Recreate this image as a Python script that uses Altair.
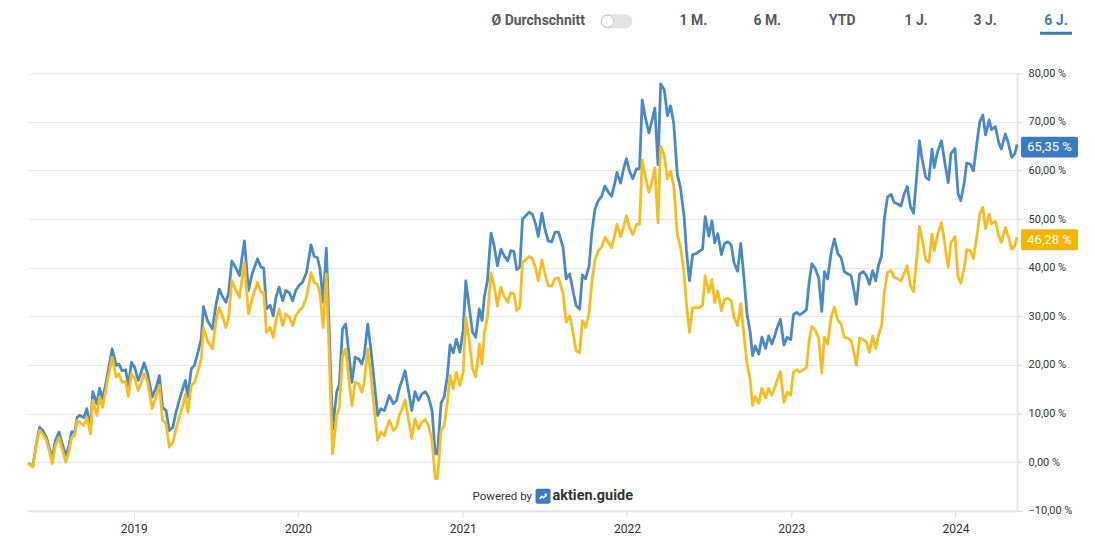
import altair as alt
import pandas as pd

# ---------------- data ----------------
t = [
 2018.358, 2018.388, 2018.409, 2018.429, 2018.449, 2018.470, 2018.490, 2018.506, 2018.526, 2018.546,
 2018.567, 2018.587, 2018.607, 2018.622, 2018.642, 2018.656, 2018.672, 2018.696, 2018.716, 2018.737,
 2018.753, 2018.777, 2018.793, 2018.813, 2018.838, 2018.871, 2018.895, 2018.911, 2018.931, 2018.951,
 2018.968, 2018.988, 2019.008, 2019.029, 2019.047, 2019.065, 2019.085, 2019.114, 2019.138, 2019.158,
 2019.178, 2019.199, 2019.219, 2019.239, 2019.259, 2019.279, 2019.300, 2019.316, 2019.330, 2019.351,
 2019.371, 2019.391, 2019.411, 2019.425, 2019.451,
 2019.482, 2019.502, 2019.522, 2019.543, 2019.563, 2019.579, 2019.600, 2019.620, 2019.644, 2019.674,
 2019.700, 2019.721, 2019.738, 2019.755, 2019.776, 2019.792, 2019.810, 2019.831, 2019.851, 2019.867,
 2019.887, 2019.907, 2019.928, 2019.948, 2019.968, 2019.988, 2020.009, 2020.029, 2020.053, 2020.080,
 2020.100, 2020.120, 2020.136, 2020.154, 2020.174, 2020.211, 2020.235, 2020.252, 2020.272, 2020.292,
 2020.308, 2020.329, 2020.349, 2020.369, 2020.389, 2020.403, 2020.426, 2020.444, 2020.460, 2020.484,
 2020.505, 2020.525, 2020.540, 2020.555, 2020.580, 2020.600, 2020.616, 2020.634, 2020.652,
 2020.693, 2020.713, 2020.733, 2020.754, 2020.774, 2020.794, 2020.815, 2020.835, 2020.849, 2020.869,
 2020.889, 2020.909, 2020.924, 2020.944, 2020.964, 2020.985, 2021.005, 2021.021, 2021.041, 2021.061,
 2021.082, 2021.102, 2021.118, 2021.132, 2021.152, 2021.173, 2021.193, 2021.213, 2021.234, 2021.254,
 2021.274, 2021.295, 2021.315, 2021.331, 2021.349, 2021.365, 2021.386, 2021.406, 2021.426, 2021.444,
 2021.462, 2021.483, 2021.503, 2021.523, 2021.544, 2021.564, 2021.584, 2021.612, 2021.632, 2021.653,
 2021.673, 2021.693, 2021.714, 2021.730, 2021.750,
 2021.770, 2021.787, 2021.807, 2021.827, 2021.848, 2021.868, 2021.888, 2021.908, 2021.928, 2021.942,
 2021.963, 2021.983, 2021.999, 2022.018, 2022.038, 2022.058, 2022.078, 2022.094, 2022.115, 2022.135,
 2022.155, 2022.171, 2022.191, 2022.208, 2022.228, 2022.248, 2022.267, 2022.287, 2022.307, 2022.327,
 2022.348, 2022.364, 2022.382, 2022.402, 2022.422, 2022.443, 2022.463, 2022.479, 2022.499, 2022.519,
 2022.536, 2022.556, 2022.577, 2022.597, 2022.617, 2022.637, 2022.653, 2022.674, 2022.694, 2022.714,
 2022.732, 2022.753, 2022.767, 2022.783, 2022.803, 2022.823, 2022.844, 2022.864, 2022.884, 2022.899,
 2022.914, 2022.935,
 2022.957, 2022.977, 2022.998, 2023.014, 2023.034, 2023.054, 2023.075, 2023.095, 2023.111, 2023.127,
 2023.148, 2023.168, 2023.188, 2023.204, 2023.224, 2023.245, 2023.265, 2023.285, 2023.306, 2023.326,
 2023.346, 2023.366, 2023.382, 2023.399, 2023.419, 2023.439, 2023.459, 2023.479, 2023.496, 2023.516,
 2023.532, 2023.552, 2023.569, 2023.589, 2023.609, 2023.629, 2023.650, 2023.670, 2023.690, 2023.707,
 2023.727, 2023.747, 2023.767, 2023.783, 2023.800, 2023.820, 2023.840, 2023.860, 2023.872, 2023.893,
 2023.917, 2023.937, 2023.957, 2023.974, 2023.998, 2024.018, 2024.035, 2024.055, 2024.071, 2024.091,
 2024.111, 2024.132, 2024.148, 2024.168, 2024.184, 2024.205, 2024.221, 2024.245, 2024.265, 2024.281,
 2024.306, 2024.322, 2024.342, 2024.363, 2024.375,
]

blue = [
 -0.2, -0.8, 4.1, 7.2, 6.5, 5.1, 2.7, 0.7, 4.5, 6.2,
 3.8, 1.4, 3.4, 6.2, 6.2, 9.2, 9.6, 9.2, 11.0, 6.8,
 14.5, 12.0, 15.2, 13.0, 17.1, 23.3, 19.9, 20.2, 18.8, 19.0,
 15.8, 20.5, 19.5, 16.8, 18.6, 20.4, 18.2, 13.4, 15.4, 17.8,
 11.3, 10.6, 6.5, 7.2, 10.3, 12.7, 15.1, 16.8, 13.4, 19.2,
 19.9, 22.3, 25.3, 32.0, 29.1,
 27.4, 32.5, 35.6, 33.9, 32.9, 34.9, 41.4, 40.1, 38.4, 45.5,
 35.3, 38.7, 40.3, 41.8, 40.1, 39.9, 31.5, 32.3, 30.1, 33.9,
 36.0, 33.2, 35.3, 34.8, 33.2, 35.3, 36.4, 37.0, 39.0, 44.7,
 42.3, 42.1, 39.7, 32.9, 44.0, 6.8, 14.4, 16.1, 27.4, 28.4,
 23.3, 16.4, 21.6, 21.2, 20.2, 21.9, 28.4, 23.3, 17.9, 9.6,
 11.0, 10.6, 12.0, 13.7, 12.0, 12.7, 15.1, 17.0, 18.8,
 10.6, 14.5, 12.7, 14.0, 14.5, 13.4, 10.6, 1.7, 1.7, 12.2,
 13.4, 17.8, 24.1, 22.5, 25.3, 22.6, 27.1, 37.3, 32.2, 26.7,
 25.7, 31.5, 29.1, 33.9, 37.3, 47.1, 44.5, 40.4, 43.8, 42.5,
 41.4, 43.5, 43.3, 39.6, 40.1, 50.0, 50.7, 51.4, 51.0, 49.0,
 46.4, 51.2, 47.9, 45.5, 45.3, 47.3, 47.3, 44.2, 37.7, 38.7,
 35.3, 32.2, 31.5, 38.5, 37.7,
 40.4, 47.2, 52.0, 53.7, 54.7, 56.8, 55.5, 54.7, 57.4, 59.6,
 57.4, 60.5, 62.4, 59.8, 58.3, 60.3, 60.3, 74.5, 70.8, 67.7,
 70.4, 72.8, 61.2, 77.8, 76.6, 71.3, 73.3, 69.7, 59.2, 56.4,
 50.6, 43.8, 37.3, 42.7, 42.9, 43.4, 43.8, 50.5, 46.5, 49.6,
 45.1, 47.0, 42.7, 45.0, 45.3, 44.6, 41.0, 39.3, 45.0, 38.0,
 30.4, 26.7, 21.9, 23.9, 22.2, 25.7, 23.4, 26.0, 24.3, 25.8,
 27.4, 29.4,
 24.1, 25.7, 25.2, 30.3, 30.8, 30.3, 30.8, 31.4, 37.0, 40.8,
 39.7, 38.0, 31.0, 39.2, 37.7, 43.2, 45.9, 42.8, 42.1, 39.2,
 38.7, 38.4, 35.6, 32.5, 38.7, 39.2, 38.4, 36.6, 39.4, 37.3,
 40.4, 42.5, 50.0, 54.5, 55.1, 53.4, 53.1, 52.7, 55.1, 56.7,
 52.6, 51.2, 58.9, 66.1, 62.3, 58.6, 58.1, 64.4, 60.6, 63.7,
 66.1, 61.3, 57.5, 63.4, 64.5, 55.1, 53.8, 57.7, 61.5, 61.3,
 59.9, 65.8, 70.0, 71.4, 67.3, 70.4, 68.4, 69.0, 65.8, 64.4,
 67.5, 65.8, 62.7, 63.4, 65.35,
]

yellow = [
 -0.2, -1.0, 3.8, 6.5, 5.8, 4.5, 2.1, -0.3, 3.4, 5.1,
 2.7, 0.0, 2.1, 5.1, 5.5, 8.6, 8.2, 7.5, 9.2, 5.8,
 12.7, 9.6, 13.4, 11.3, 15.8, 21.6, 17.5, 18.2, 16.4, 16.6,
 13.6, 18.2, 17.3, 14.7, 16.4, 18.2, 16.4, 11.0, 13.7, 15.8,
 8.6, 7.9, 3.1, 4.1, 6.8, 9.2, 11.6, 14.0, 10.3, 15.8,
 16.4, 18.5, 21.2, 27.7, 25.0,
 23.3, 29.1, 31.8, 29.8, 27.7, 29.8, 37.3, 35.6, 33.9, 41.1,
 30.5, 33.6, 35.3, 37.0, 34.9, 34.9, 26.7, 27.7, 25.7, 29.1,
 31.5, 28.1, 30.5, 29.8, 28.1, 30.1, 31.2, 31.8, 33.9, 39.0,
 37.0, 36.6, 34.6, 27.7, 38.7, 1.7, 9.6, 11.3, 21.9, 23.3,
 17.8, 11.6, 16.4, 16.1, 14.4, 16.4, 23.3, 17.8, 12.3, 4.5,
 6.2, 5.5, 7.0, 8.6, 6.5, 7.2, 9.6, 11.0, 12.8,
 4.9, 8.9, 6.8, 8.2, 8.8, 7.5, 4.5, -3.4, -3.4, 6.5,
 7.5, 12.3, 17.8, 15.1, 18.5, 15.8, 18.5, 29.8, 25.3, 19.2,
 17.5, 24.3, 20.2, 26.4, 29.8, 38.9, 36.3, 32.1, 36.0, 34.2,
 32.9, 34.9, 34.6, 31.2, 31.8, 41.1, 41.6, 42.3, 41.9, 40.0,
 37.3, 41.6, 38.7, 36.3, 36.2, 37.8, 37.9, 34.7, 28.8, 30.1,
 26.7, 22.9, 22.5, 29.1, 27.7,
 30.6, 36.9, 41.6, 43.4, 44.3, 46.2, 45.1, 44.1, 46.8, 48.9,
 46.4, 48.5, 50.7, 48.2, 46.8, 48.9, 48.9, 62.1, 58.8, 55.5,
 57.8, 60.5, 49.2, 65.0, 63.2, 58.3, 59.8, 56.8, 46.8, 44.4,
 38.9, 32.8, 26.7, 31.8, 31.8, 31.8, 32.2, 38.3, 34.9, 37.6,
 32.8, 35.2, 31.1, 33.5, 33.7, 33.2, 29.8, 28.1, 32.6, 26.1,
 20.3, 16.9, 11.7, 13.5, 12.1, 15.2, 13.2, 15.2, 13.8, 15.2,
 16.6, 18.6,
 12.3, 14.4, 13.8, 18.5, 19.0, 18.5, 19.0, 19.5, 25.0, 27.9,
 27.1, 25.5, 18.4, 25.7, 24.3, 29.8, 31.9, 29.2, 28.4, 25.7,
 25.5, 25.0, 22.9, 19.9, 25.5, 25.2, 24.7, 22.6, 25.9, 23.4,
 26.0, 28.1, 34.9, 39.0, 39.4, 38.0, 37.7, 37.3, 38.7, 40.4,
 36.3, 35.1, 41.8, 48.5, 45.9, 41.6, 41.1, 46.9, 43.5, 46.6,
 49.3, 44.5, 40.1, 45.1, 46.4, 38.0, 36.8, 40.1, 43.7, 43.5,
 41.9, 46.6, 51.0, 52.4, 48.0, 51.0, 49.0, 49.5, 46.6, 45.2,
 48.3, 46.6, 43.8, 44.5, 46.28,
]

y_ticks = [-10, 0, 10, 20, 30, 40, 50, 60, 70, 80]
x_years = [2019, 2020, 2021, 2022, 2023, 2024]
menu_items = ["1 M.", "6 M.", "YTD", "1 J.", "3 J.", "6 J."]

# ---------------- helpers ----------------
def to_date(v):
    y = int(v)
    start = pd.Timestamp(y, 1, 1)
    end = pd.Timestamp(y + 1, 1, 1)
    return (start + (end - start) * (v - y)).normalize()

df = pd.DataFrame({"date": [to_date(v) for v in t], "blue": blue, "yellow": yellow})
last = pd.DataFrame({"v": [blue[-1], yellow[-1]], "c": ["blue", "yellow"]})
ui = pd.DataFrame({"k": [0]})

FONT = "Roboto"
BLUE_LINE = "#4a89c3"
YELLOW_LINE = "#f6bd22"
BLUE_BOX = "#3a7bbf"
YELLOW_BOX = "#f2b600"
W, H = 990, 438

yscale = alt.Scale(domain=[-10, 80], nice=False, zero=False)
xscale = alt.Scale(nice=False)

label_expr = "replace(format(datum.value, '.2f'), '.', ',') + ' %'"
y_axis = alt.Axis(
    orient="right", title=None, values=y_ticks, labelExpr=label_expr,
    grid=True, gridColor="#e6e6e6", gridWidth=1,
    domainColor="#e8e8e8", domainWidth=2,
    tickColor="#d6d6d6", tickSize=5, labelPadding=6,
    labelColor="#333333", labelFontSize=11, labelFont=FONT,
)
x_axis = alt.Axis(
    title=None, format="%Y", grid=False,
    values=[alt.DateTime(year=y, month=1, date=1) for y in x_years],
    domainColor="#e3e3e3", domainWidth=2, tickColor="#d9d9d9", tickSize=6,
    labelColor="#333333", labelFontSize=12, labelFont=FONT, labelPadding=7,
    labelFlush=False,
)

base = alt.Chart(df)
line_blue = base.mark_line(color=BLUE_LINE, strokeWidth=2.8, strokeJoin="round").encode(
    x=alt.X("date:T", scale=xscale, axis=x_axis),
    y=alt.Y("blue:Q", scale=yscale, axis=y_axis),
)
line_yellow = base.mark_line(color=YELLOW_LINE, strokeWidth=2.8, strokeJoin="round").encode(
    x=alt.X("date:T", scale=xscale, axis=x_axis),
    y=alt.Y("yellow:Q", scale=yscale, axis=y_axis),
)

box_color = alt.Color("c:N", scale=alt.Scale(domain=["blue", "yellow"], range=[BLUE_BOX, YELLOW_BOX]), legend=None)
boxes = alt.Chart(last).transform_calculate(
    lo="datum.v - 2.7", hi="datum.v + 1.6"
).mark_rect(cornerRadius=2).encode(
    x=alt.value(994), x2=alt.value(1051),
    y=alt.Y("lo:Q", scale=yscale, axis=y_axis), y2="hi:Q",
    color=box_color,
)
box_text = alt.Chart(last).transform_calculate(
    lbl="replace(format(datum.v, '.2f'), '.', ',') + ' %'"
).mark_text(color="white", fontSize=13, font=FONT, align="center", baseline="middle", dy=3).encode(
    x=alt.value(1022.5), y=alt.Y("v:Q", scale=yscale, axis=y_axis), text="lbl:N",
)

# ---------------- header / footer decorations ----------------
layers = [line_blue, line_yellow, boxes, box_text]

uic = alt.Chart(ui)
layers.append(uic.mark_text(text="Ø Durchschnitt", font=FONT, fontSize=14, fontWeight="bold",
                            color="#5a5a5a", align="left", baseline="middle").encode(
    x=alt.value(464), y=alt.value(-52)))
layers.append(uic.mark_rect(cornerRadius=7, color="#e3e3e3").encode(
    x=alt.value(573), x2=alt.value(605), y=alt.value(-59), y2=alt.value(-45)))
layers.append(uic.mark_point(shape="circle", filled=True, fill="white", stroke="#c4c4c4",
                             strokeWidth=1, size=150, opacity=1).encode(
    x=alt.value(580), y=alt.value(-52)))

menu_x = [666, 740, 815, 889, 958, 1029]
for label, mx in zip(menu_items, menu_x):
    col = BLUE_BOX if label == "6 J." else "#5a5a5a"
    layers.append(uic.mark_text(text=label, font=FONT, fontSize=14, fontWeight="bold",
                                color=col, align="center", baseline="middle").encode(
        x=alt.value(mx), y=alt.value(-52)))
layers.append(uic.mark_rect(color=BLUE_BOX).encode(
    x=alt.value(1013), x2=alt.value(1045), y=alt.value(-41.5), y2=alt.value(-38.5)))

layers.append(uic.mark_text(text="Powered by", font=FONT, fontSize=11.5, color="#333333",
                            align="left", baseline="middle").encode(
    x=alt.value(445), y=alt.value(424)))
layers.append(uic.mark_rect(cornerRadius=2, color=BLUE_BOX).encode(
    x=alt.value(508), x2=alt.value(523), y=alt.value(416), y2=alt.value(431)))
layers.append(uic.mark_point(shape="M-0.8,0.6 L-0.25,0 L0.15,0.35 L0.8,-0.45 M0.35,-0.5 L0.8,-0.45 L0.75,0",
                             filled=False, stroke="white", strokeWidth=1.5, size=70, opacity=1).encode(
    x=alt.value(515.5), y=alt.value(423.5)))
layers.append(uic.mark_text(text="aktien.guide", font=FONT, fontSize=14.5, fontWeight="bold",
                            color="#333333", align="left", baseline="middle").encode(
    x=alt.value(525), y=alt.value(423)))

chart = alt.layer(*layers).properties(
    width=W, height=H,
    padding={"left": 20, "top": 65, "right": 70, "bottom": 32},
    autosize="none",
    background="white",
).configure_view(strokeWidth=0).configure_text(font=FONT)

chart.save("out.html", embed_options={"renderer": "svg", "actions": False})
